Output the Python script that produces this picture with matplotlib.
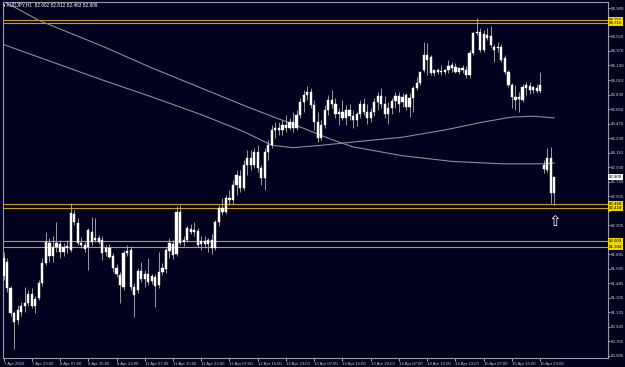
import numpy as np
import matplotlib.pyplot as plt

# AUDJPY H1, one bar per hour from 7 Apr 2016 15:00 (last 4 bars: Monday 18 Apr after the gap)
opens = [81.80, 81.75, 81.43, 81.12, 81.03, 81.13, 81.20, 81.24, 81.35, 81.20,
         81.30, 81.49, 81.74, 81.99, 81.83, 81.94, 81.97, 81.88, 81.93, 81.90,
         82.35, 82.24, 81.99, 81.96, 81.94, 82.12, 82.02, 82.05, 82.02, 81.88,
         81.93, 81.83, 81.68, 81.59, 81.44, 81.86, 81.90, 81.44, 81.40, 81.64,
         81.54, 81.60, 81.52, 81.57, 81.47, 81.63, 81.67, 81.89, 81.97, 81.85,
         82.37, 82.00, 82.02, 82.16, 82.12, 82.14, 81.97, 82.01, 81.97, 82.02,
         81.93, 82.25, 82.42, 82.37, 82.55, 82.52, 82.71, 82.82, 82.67, 82.96,
         83.04, 82.96, 83.12, 82.92, 82.79, 83.12, 83.20, 83.39, 83.41, 83.39,
         83.45, 83.41, 83.49, 83.41, 83.58, 83.74, 83.82, 83.86, 83.70, 83.49,
         83.29, 83.45, 83.64, 83.76, 83.71, 83.59, 83.61, 83.54, 83.64, 83.56,
         83.51, 83.59, 83.71, 83.61, 83.54, 83.61, 83.74, 83.81, 83.71, 83.59,
         83.66, 83.75, 83.81, 83.74, 83.67, 83.79, 83.79, 83.91, 83.97, 84.13,
         84.32, 84.30, 84.10, 84.11, 84.12, 84.11, 84.13, 84.16, 84.17, 84.11,
         84.16, 84.13, 84.07, 84.35, 84.59, 84.61, 84.38, 84.57, 84.56, 84.42,
         84.41, 84.42, 84.28, 84.11, 83.95, 83.80, 83.77, 83.76, 83.91, 83.94,
         83.89, 83.91, 83.87, 82.91, 82.89, 83.04, 82.602]
highs = [81.88, 81.80, 81.45, 81.14, 81.22, 81.26, 81.44, 81.40, 81.43, 81.33,
         81.53, 81.80, 82.12, 82.05, 82.07, 82.25, 82.02, 81.99, 82.02, 82.48,
         82.40, 82.30, 82.06, 82.00, 82.17, 82.31, 82.30, 82.09, 82.07, 81.96,
         81.97, 81.86, 81.73, 81.63, 81.90, 81.96, 81.95, 81.49, 81.68, 81.75,
         81.65, 81.80, 81.60, 81.60, 81.88, 81.74, 81.93, 82.05, 82.02, 82.45,
         82.46, 82.07, 82.20, 82.22, 82.25, 82.17, 82.07, 82.07, 82.05, 82.10,
         82.27, 82.46, 82.55, 82.58, 82.65, 82.77, 82.89, 82.89, 83.02, 83.14,
         83.14, 83.17, 83.20, 82.96, 83.17, 83.27, 83.45, 83.49, 83.49, 83.51,
         83.58, 83.54, 83.61, 83.64, 83.79, 83.89, 83.94, 83.91, 83.76, 83.61,
         83.51, 83.70, 83.82, 83.89, 83.79, 83.66, 83.76, 83.70, 83.71, 83.64,
         83.61, 83.76, 83.79, 83.71, 83.66, 83.79, 83.86, 83.91, 83.81, 83.74,
         83.79, 83.86, 83.86, 83.85, 83.85, 83.85, 83.94, 84.05, 84.11, 84.48,
         84.47, 84.32, 84.13, 84.16, 84.20, 84.15, 84.26, 84.23, 84.22, 84.16,
         84.20, 84.18, 84.38, 84.61, 84.78, 84.66, 84.63, 84.66, 84.68, 84.46,
         84.48, 84.46, 84.32, 84.13, 83.97, 83.95, 83.86, 83.96, 83.99, 83.99,
         83.94, 83.96, 84.11, 83.02, 83.17, 83.18, 82.812]
lows = [81.53, 81.38, 81.08, 80.67, 80.98, 81.08, 81.13, 81.20, 81.18, 81.12,
        81.28, 81.45, 81.71, 81.75, 81.75, 81.88, 81.80, 81.83, 81.86, 81.88,
        82.21, 81.96, 81.93, 81.88, 81.65, 81.96, 82.00, 81.97, 81.78, 81.83,
        81.80, 81.63, 81.57, 81.24, 81.40, 81.83, 81.40, 81.07, 81.37, 81.50,
        81.44, 81.47, 81.48, 81.19, 81.43, 81.59, 81.62, 81.80, 81.79, 81.83,
        81.96, 81.95, 82.00, 82.10, 82.07, 81.94, 81.90, 81.93, 81.88, 81.85,
        81.90, 82.20, 82.33, 82.35, 82.46, 82.47, 82.58, 82.62, 82.65, 82.83,
        82.89, 82.92, 82.87, 82.71, 82.65, 83.02, 83.17, 83.29, 83.33, 83.33,
        83.37, 83.39, 83.37, 83.39, 83.54, 83.61, 83.76, 83.66, 83.39, 83.24,
        83.27, 83.41, 83.58, 83.66, 83.54, 83.45, 83.51, 83.45, 83.51, 83.41,
        83.44, 83.54, 83.58, 83.46, 83.49, 83.56, 83.64, 83.66, 83.54, 83.46,
        83.59, 83.66, 83.61, 83.67, 83.64, 83.55, 83.61, 83.89, 83.95, 84.11,
        84.07, 84.07, 84.06, 84.08, 84.07, 84.08, 84.10, 84.11, 84.10, 84.08,
        84.10, 84.04, 84.04, 84.32, 84.57, 84.36, 84.36, 84.51, 84.42, 84.23,
        84.36, 84.23, 84.08, 83.92, 83.66, 83.64, 83.61, 83.74, 83.82, 83.84,
        83.85, 83.85, 83.85, 82.86, 82.87, 82.48, 82.463]
closes = [81.58, 81.43, 81.12, 81.01, 81.16, 81.20, 81.24, 81.35, 81.20, 81.29,
          81.49, 81.74, 82.00, 81.83, 81.94, 81.99, 81.88, 81.94, 81.95, 82.36,
          82.25, 81.99, 81.96, 81.91, 82.15, 82.00, 82.05, 82.00, 81.86, 81.93,
          81.81, 81.68, 81.60, 81.47, 81.86, 81.89, 81.44, 81.34, 81.64, 81.54,
          81.60, 81.50, 81.58, 81.45, 81.63, 81.68, 81.90, 81.99, 81.84, 82.37,
          81.99, 82.02, 82.17, 82.12, 82.15, 81.96, 82.01, 81.97, 82.02, 81.93,
          82.25, 82.42, 82.37, 82.55, 82.52, 82.71, 82.83, 82.67, 82.96, 83.04,
          82.96, 83.12, 82.92, 82.79, 83.12, 83.20, 83.39, 83.41, 83.39, 83.45,
          83.41, 83.49, 83.41, 83.58, 83.74, 83.82, 83.86, 83.70, 83.49, 83.29,
          83.45, 83.64, 83.76, 83.71, 83.59, 83.61, 83.54, 83.64, 83.56, 83.51,
          83.59, 83.71, 83.61, 83.54, 83.61, 83.74, 83.81, 83.71, 83.59, 83.66,
          83.75, 83.81, 83.71, 83.80, 83.82, 83.67, 83.91, 83.97, 84.11, 84.32,
          84.26, 84.10, 84.13, 84.13, 84.11, 84.13, 84.18, 84.20, 84.11, 84.16,
          84.13, 84.07, 84.35, 84.59, 84.61, 84.38, 84.58, 84.53, 84.45, 84.38,
          84.42, 84.26, 84.11, 83.95, 83.80, 83.76, 83.80, 83.92, 83.95, 83.89,
          83.92, 83.87, 83.95, 82.96, 83.04, 82.61, 82.809]

# moving averages, read at some bars
ma_fast_bar = [0, 14, 28, 42, 56, 68, 76, 82, 90, 99, 113, 125, 136, 144, 150, 156]
ma_fast = [84.45, 84.23, 84.01, 83.80, 83.58, 83.37, 83.20, 83.17, 83.20, 83.24,
           83.30, 83.39, 83.49, 83.55, 83.56, 83.54]
ma_slow_bar = [0, 2, 10, 28, 42, 56, 70, 85, 93, 99, 113, 127, 141, 153, 156]
ma_slow = [84.98, 84.94, 84.75, 84.43, 84.16, 83.91, 83.66, 83.41, 83.27, 83.18,
           83.07, 83.00, 82.97, 82.97, 82.98]

levels = [84.752, 84.715, 82.468, 82.418, 82.009, 81.934]
last_price = 82.809

price_ticks = [84.900, 84.730, 84.550, 84.370, 84.190, 84.010, 83.830, 83.650,
               83.470, 83.290, 83.110, 82.930, 82.745, 82.565, 82.385, 82.205,
               82.025, 81.845, 81.665, 81.485, 81.305, 81.125, 80.945, 80.765, 80.585]
# these three sit under the price boxes
hidden_ticks = [84.730, 82.385, 82.025]
time_ticks = [0, 8, 16, 24, 32, 40, 48, 56, 64, 72, 80, 88, 96, 104, 112, 120,
              128, 136, 144, 152]
time_labels = ['7 Apr 2016', '7 Apr 23:00', '8 Apr 07:00', '8 Apr 15:00', '8 Apr 23:00',
               '11 Apr 07:00', '11 Apr 15:00', '11 Apr 23:00', '12 Apr 07:00',
               '12 Apr 15:00', '12 Apr 23:00', '13 Apr 07:00', '13 Apr 15:00',
               '13 Apr 23:00', '14 Apr 07:00', '14 Apr 15:00', '14 Apr 23:00',
               '15 Apr 07:00', '15 Apr 15:00', '15 Apr 23:00']

plt.rcParams['font.family'] = ['Liberation Sans', 'DejaVu Sans']

bg = '#02021e'
fg = '#c8c8c8'
gold = '#c9a010'

fig = plt.figure(figsize=(6.25, 3.67), dpi=100, facecolor=bg)
ax = fig.add_axes([3 / 625, 9 / 367, 605 / 625, 356 / 367])
ax.set_facecolor(bg)
ax.set_xlim(-0.15, 171.2)
ax.set_ylim(80.56, 84.978)

# levels
for v in levels:
    ax.axhline(v, color=gold, lw=0.8, zorder=1)

# moving averages
ax.plot(ma_fast_bar, ma_fast, color='#8c8c94', lw=0.8, zorder=2)
ax.plot(ma_slow_bar, ma_slow, color='#8c8c94', lw=0.8, zorder=2)

# candles
o = np.array(opens)
c = np.array(closes)
x = np.arange(len(o))
ax.vlines(x, lows, highs, color='#b4b4b4', lw=0.6, zorder=3)
body_low = np.minimum(o, c)
body_h = np.maximum(np.abs(c - o), 0.012)
ax.bar(x, body_h, bottom=body_low, width=0.62, color='white',
       edgecolor='white', lw=0.3, zorder=4)

# arrow under the last bar
ax.text(156, 82.26, '\u21e7', fontsize=11, color='white', ha='center',
        va='center', zorder=5, family='DejaVu Sans')

# axes look
for side in ['left', 'right', 'bottom', 'top']:
    ax.spines[side].set_color('#9a9aa8')
    ax.spines[side].set_linewidth(0.8)
ax.yaxis.tick_right()
ax.set_yticks(price_ticks)
ax.set_yticklabels(['' if t in hidden_ticks else '%.3f' % t for t in price_ticks])
ax.set_xticks(time_ticks)
ax.set_xticklabels(time_labels, ha='left')
ax.tick_params(axis='y', colors=fg, labelsize=3.2, length=1.5, width=0.6, pad=0.4)
ax.tick_params(axis='x', colors=fg, labelsize=3.1, length=2, width=0.6, pad=0.8)

# price boxes on the right scale
ytr = ax.get_yaxis_transform()
for v in levels:
    ax.text(1.001, v, '%.3f' % v, transform=ytr, fontsize=3.2, color='black',
            ha='left', va='center', clip_on=False, zorder=6,
            bbox=dict(boxstyle='square,pad=0.2', fc='#f2d600', ec='none'))
ax.text(1.001, last_price, '%.3f' % last_price, transform=ytr, fontsize=3.2,
        color='black', ha='left', va='center', clip_on=False, zorder=6,
        bbox=dict(boxstyle='square,pad=0.2', fc='white', ec='none'))

# title
fig.text(3 / 625, 1 - 5 / 367, '\u25be AUDJPY,H1  82.602 82.812 82.463 82.809',
         fontsize=3.4, color='white', va='center', ha='left',
         family=['Liberation Sans', 'DejaVu Sans'])

fig.savefig('out.png', dpi=100, facecolor=bg)
